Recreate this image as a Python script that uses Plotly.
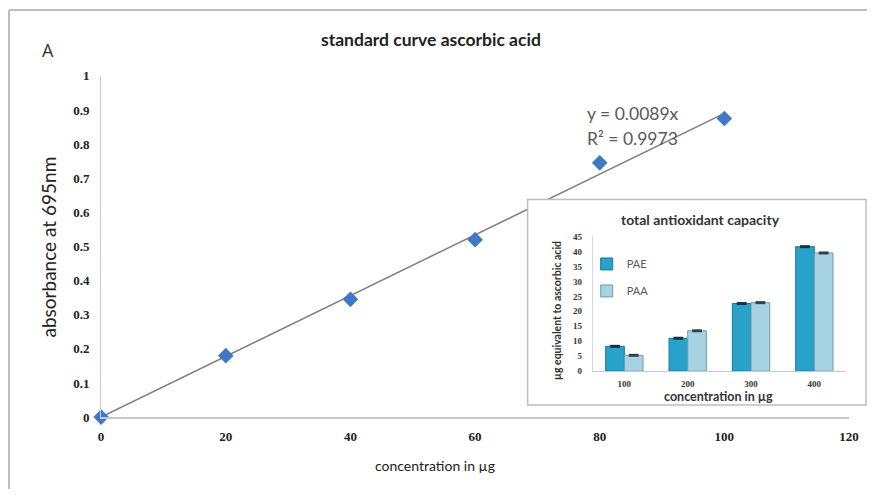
import plotly.graph_objects as go

# ---- main standard curve data ----
conc = [0, 20, 40, 60, 80, 100]
absorb = [0.0, 0.18, 0.345, 0.52, 0.745, 0.875]
slope = 0.0089
trend_x = [0, 100]
trend_y = [slope * v for v in trend_x]
eq_text = "y = 0.0089x"
r2_text = "R² = 0.9973"

# ---- inset data ----
inset_cats = ["100", "200", "300", "400"]
pae = [8.3, 11.0, 22.6, 41.6]
paa = [5.3, 13.5, 22.9, 39.5]

W, H = 877, 497
# map target screen pixels to paper fractions (page is shown slightly inset)
SX, OX = 0.984, 3.0
SY, OY = 0.972, 7.0
def px(x):
    return min(1.0, max(0.0, ((x - OX) / SX) / W))
def py(y):
    return min(1.0, max(0.0, 1 - ((y - OY) / SY) / H))

GAP = 0.41
half = (1 - GAP) / 4          # offset of each bar centre inside a group
idx = list(range(len(inset_cats)))
pae_cap_x = [i - half for i in idx]
paa_cap_x = [i + half for i in idx]

fig = go.Figure()

fig.add_trace(go.Scatter(x=trend_x, y=trend_y, mode="lines",
                         line=dict(color="#7f7f7f", width=1.5),
                         showlegend=False, hoverinfo="skip"))
fig.add_trace(go.Scatter(x=conc, y=absorb, mode="markers",
                         marker=dict(symbol="diamond", size=12, color="#3f78c3",
                                     line=dict(width=0)),
                         cliponaxis=False, showlegend=False))

# inset background subplot (covers the main chart beneath the inset box)
fig.add_trace(go.Scatter(x=[], y=[], xaxis="x2", yaxis="y2", showlegend=False))

fig.add_trace(go.Bar(x=inset_cats, y=pae, name="PAE", xaxis="x3", yaxis="y3",
                     marker=dict(color="#28a2c8", line=dict(color="#1a7898", width=1)),
                     legendgroup="a"))
fig.add_trace(go.Bar(x=inset_cats, y=paa, name="PAA", xaxis="x3", yaxis="y3",
                     marker=dict(color="#a6d2e2", line=dict(color="#6f9db0", width=1)),
                     legendgroup="b"))
# dark cylinder caps on the bar tops (overlay axis aligned with the category slots)
fig.add_trace(go.Scatter(x=pae_cap_x, y=pae, mode="markers", xaxis="x4", yaxis="y3",
                         showlegend=False, hoverinfo="skip", cliponaxis=False,
                         marker=dict(symbol="line-ew", size=7,
                                     line=dict(color="#17323d", width=3))))
fig.add_trace(go.Scatter(x=paa_cap_x, y=paa, mode="markers", xaxis="x4", yaxis="y3",
                         showlegend=False, hoverinfo="skip", cliponaxis=False,
                         marker=dict(symbol="line-ew", size=7,
                                     line=dict(color="#2c4450", width=3))))

tickfont_main = dict(family="Liberation Serif", size=13, color="#222222", weight="bold")
tickfont_inset = dict(family="Liberation Serif", size=9, color="#333333", weight="bold")

fig.update_layout(
    width=W, height=H,
    margin=dict(l=0, r=0, t=0, b=0),
    paper_bgcolor="white", plot_bgcolor="white",
    showlegend=True,
    barmode="group", bargap=GAP, bargroupgap=0,
    xaxis=dict(domain=[px(101), px(848)], range=[0, 120], dtick=20,
               showgrid=False, zeroline=False, showline=True,
               linecolor="#c8c8c8", linewidth=2, ticks="",
               tickfont=tickfont_main, ticklabelstandoff=6, anchor="y"),
    yaxis=dict(domain=[py(418), py(76)], range=[0, 1], dtick=0.1,
               showgrid=False, zeroline=False, showline=True,
               linecolor="#c8c8c8", linewidth=1, ticks="",
               tickfont=tickfont_main, ticklabelstandoff=8, anchor="x"),
    xaxis2=dict(domain=[px(527), px(870)], visible=False, anchor="y2", range=[0, 1]),
    yaxis2=dict(domain=[py(406), py(200)], visible=False, anchor="x2", range=[0, 1]),
    xaxis3=dict(domain=[px(592), px(845)], anchor="y3", type="category",
                range=[-0.5, len(inset_cats) - 0.5],
                showgrid=False, zeroline=False, showline=True,
                linecolor="#c8c8c8", linewidth=1, ticks="",
                tickfont=tickfont_inset, ticklabelstandoff=4),
    xaxis4=dict(overlaying="x3", anchor="y3", range=[-0.5, len(inset_cats) - 0.5],
                visible=False),
    yaxis3=dict(domain=[py(372), py(237)], anchor="x3", range=[0, 45], dtick=5,
                showgrid=False, zeroline=False, showline=True,
                linecolor="#d8d8d8", linewidth=1, ticks="",
                tickfont=tickfont_inset, ticklabelstandoff=8),
    legend=dict(x=px(586), y=py(250), xanchor="left", yanchor="top",
                bgcolor="rgba(0,0,0,0)", traceorder="grouped", tracegroupgap=8,
                font=dict(family="Lato", size=11, color="#595959"),
                itemwidth=30),
)

shapes = [
    dict(type="line", xref="paper", yref="paper", x0=px(9), x1=px(874), y0=py(10), y1=py(10),
         line=dict(color="#bdbdbd", width=2), layer="above"),
    dict(type="line", xref="paper", yref="paper", x0=px(9), x1=px(9), y0=py(10), y1=0,
         line=dict(color="#bdbdbd", width=2), layer="above"),
    dict(type="rect", xref="paper", yref="paper", x0=px(527), x1=px(870) - 1.0 / W,
         y0=py(406), y1=py(200),
         line=dict(color="#bdbdbd", width=1.5), fillcolor="rgba(0,0,0,0)", layer="above"),
]
fig.update_layout(shapes=shapes)

annotations = [
    dict(text="standard curve ascorbic acid", x=px(430), y=py(40), xref="paper", yref="paper",
         showarrow=False, font=dict(family="Lato", size=17.5, color="#222222", weight="bold"),
         xanchor="center", yanchor="middle"),
    dict(text="A", x=px(40), y=py(50), xref="paper", yref="paper", showarrow=False,
         font=dict(family="Open Sans", size=18, color="#333333"), xanchor="left", yanchor="middle"),
    dict(text="absorbance at 695nm", x=px(48), y=py(248), xref="paper", yref="paper",
         showarrow=False, textangle=-90,
         font=dict(family="Lato", size=19, color="#222222"), xanchor="center", yanchor="middle"),
    dict(text="concentration in µg", x=px(434), y=py(467), xref="paper", yref="paper",
         showarrow=False, font=dict(family="Lato", size=14, color="#222222"),
         xanchor="center", yanchor="middle"),
    dict(text=eq_text, x=px(584), y=py(114), xref="paper", yref="paper", showarrow=False,
         font=dict(family="Lato", size=17.5, color="#595959"), xanchor="left", yanchor="middle"),
    dict(text=r2_text, x=px(584), y=py(139), xref="paper", yref="paper", showarrow=False,
         font=dict(family="Lato", size=17.5, color="#595959"), xanchor="left", yanchor="middle"),
    dict(text="total antioxidant capacity", x=px(700), y=py(220), xref="paper", yref="paper",
         showarrow=False, font=dict(family="Lato", size=14, color="#333333", weight="bold"),
         xanchor="center", yanchor="middle"),
    dict(text="µg equivalent to ascorbic acid", x=px(557), y=py(311), xref="paper", yref="paper",
         showarrow=False, textangle=-90,
         font=dict(family="Lato", size=10.5, color="#333333", weight="bold"),
         xanchor="center", yanchor="middle"),
    dict(text="concentration in µg", x=px(718), y=py(397), xref="paper", yref="paper",
         showarrow=False, font=dict(family="Lato", size=12.5, color="#333333", weight="bold"),
         xanchor="center", yanchor="middle"),
]
fig.update_layout(annotations=annotations)

fig.write_html("out.html")
